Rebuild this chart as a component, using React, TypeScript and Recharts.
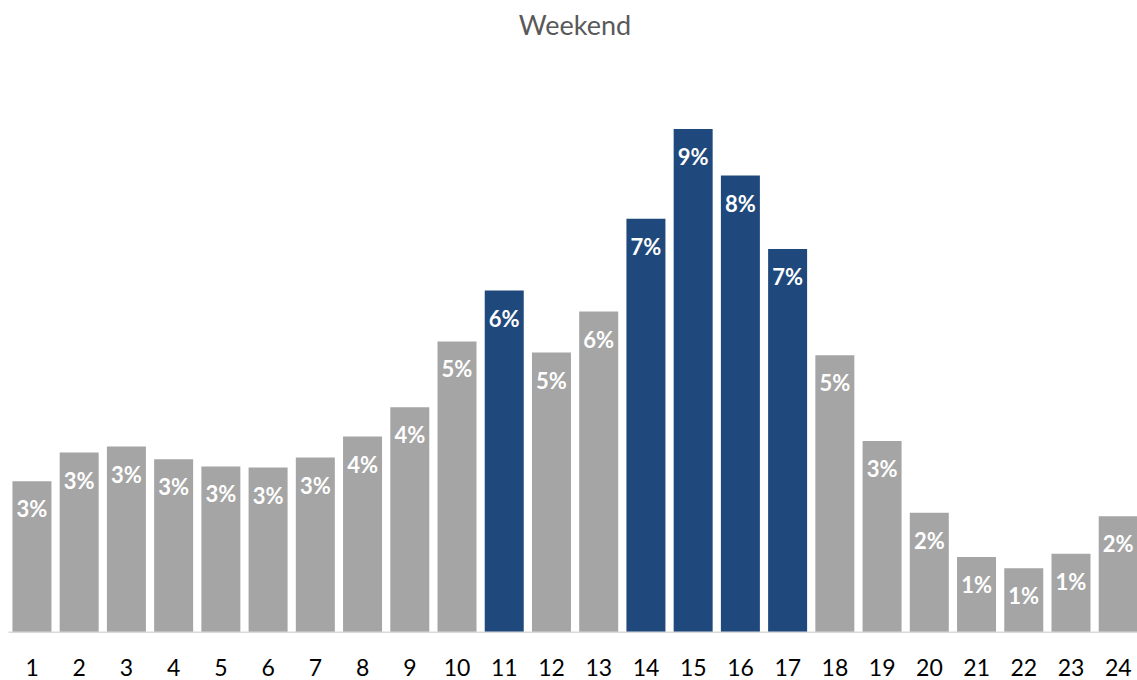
import { BarChart, Bar, XAxis, YAxis, Cell, LabelList } from "recharts";

// Share of weekend activity per hour of the day (percent)
const hours: number[] = [
  1, 2, 3, 4, 5, 6, 7, 8, 9, 10, 11, 12, 13, 14, 15, 16, 17, 18, 19, 20, 21, 22, 23, 24,
];
const shares: number[] = [
  2.73, 3.25, 3.36, 3.13, 3.0, 2.98, 3.16, 3.54, 4.07, 5.26, 6.18, 5.06, 5.8, 7.48, 9.1,
  8.26, 6.93, 5.01, 3.46, 2.16, 1.36, 1.16, 1.42, 2.1,
];
// Peak hours drawn in dark blue
const peakHours: number[] = [11, 14, 15, 16, 17];

const GREY = "#A5A5A5";
const BLUE = "#1F497D";
const FONT = "Lato, 'Open Sans', sans-serif";

const data = hours.map((hour, i) => ({ hour: String(hour), share: shares[i] }));

export default function App() {
  return (
    <div
      style={{
        position: "absolute",
        left: 0,
        top: 0,
        width: 1137,
        height: 680,
        overflow: "hidden",
        background: "#fff",
      }}
    >
      <div
        style={{
          position: "absolute",
          left: 0,
          top: 9,
          width: 1150,
          textAlign: "center",
          fontFamily: FONT,
          fontSize: 27,
          lineHeight: "32px",
          color: "#595959",
        }}
      >
        Weekend
      </div>
      <BarChart
        width={1150}
        height={680}
        data={data}
        margin={{ top: 79.3, right: 8.05, bottom: 7.7, left: 8.45 }}
        barSize={39}
      >
        <XAxis
          dataKey="hour"
          interval={0}
          height={40}
          tickLine={false}
          tickSize={0}
          tickMargin={27}
          axisLine={{ stroke: "#D9D9D9", strokeWidth: 1.5 }}
          tick={{ fill: "#000", fontSize: 23, fontFamily: FONT }}
        />
        <YAxis hide domain={[0, 10]} />
        <Bar dataKey="share" isAnimationActive={false}>
          {data.map((d) => (
            <Cell key={d.hour} fill={peakHours.includes(Number(d.hour)) ? BLUE : GREY} />
          ))}
          <LabelList
            dataKey="share"
            position="insideTop"
            offset={20.4}
            formatter={(v: any) => `${Math.round(Number(v))}%`}
            fill="#fff"
            style={{ fontFamily: FONT, fontWeight: 700, fontSize: 22 }}
          />
        </Bar>
      </BarChart>
    </div>
  );
}
